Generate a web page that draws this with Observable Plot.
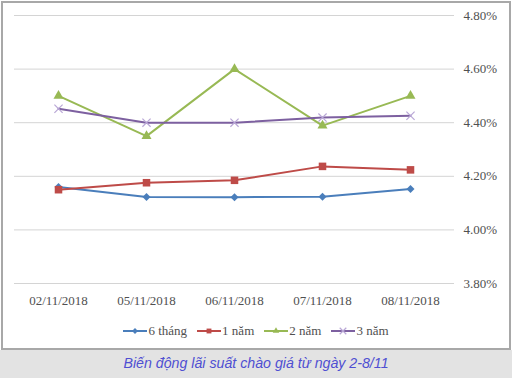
<!DOCTYPE html>
<html>
<head>
<meta charset="utf-8">
<script src="https://cdn.jsdelivr.net/npm/d3@7"></script>
<script src="https://cdn.jsdelivr.net/npm/@observablehq/plot@0.6"></script>
<style>
  html, body { margin: 0; padding: 0; background: #fff; }
  #wrap { position: relative; width: 512px; height: 378px; overflow: hidden; font-family: "Liberation Serif", "DejaVu Serif", serif; }
  #box { position: absolute; left: 1px; top: 1px; width: 506px; height: 345px; border: 2px solid #a8a8a8; box-sizing: content-box; }
  #chart { position: absolute; left: 0; top: 0; }
  #legend { position: absolute; left: 0; width: 512px; top: 323px; display: flex; justify-content: center; align-items: center; font-size: 13px; color: #505050; }
  .item { display: flex; align-items: center; margin: 0 5px; }
  .item svg { margin-right: 1px; }
  #caption { position: absolute; left: 0; top: 350px; width: 512px; height: 28px; background: #e3e3e3; text-align: center; line-height: 27px; font-family: "Liberation Sans", Arial, sans-serif; font-style: italic; font-size: 14.2px; color: #4f4fd2; }
</style>
</head>
<body>
<div id="wrap">
  <div id="box"></div>
  <div id="chart"></div>
  <div id="legend"></div>
  <div id="caption">Biến động lãi suất chào giá từ ngày 2-8/11</div>
</div>
<script>
const dates = ["02/11/2018", "05/11/2018", "06/11/2018", "07/11/2018", "08/11/2018"];
const seriesNames = ["6 tháng", "1 năm", "2 năm", "3 năm"];
const v6thang = [4.160, 4.123, 4.122, 4.124, 4.153];
const v1nam = [4.150, 4.176, 4.185, 4.237, 4.224];
const v2nam = [4.500, 4.350, 4.600, 4.389, 4.500];
const v3nam = [4.452, 4.400, 4.400, 4.419, 4.426];
const yTicks = [3.8, 4.0, 4.2, 4.4, 4.6, 4.8];

const lineColors = ["#4a7ebb", "#be4b48", "#98b954", "#7d60a0"];
const markColors = ["#4a7ebb", "#be4b48", "#98b954", "#b9a7d6"];
const symbols = ["diamond2", "square2", "triangle2", "times"];
const sizes = [3.6, 4.8, 4.8, 3.8];

const allValues = [v6thang, v1nam, v2nam, v3nam];
const data = [];
allValues.forEach((vals, si) => {
  vals.forEach((v, i) => data.push({series: seriesNames[si], si, date: dates[i], value: v}));
});

const marks = [
  Plot.gridY(yTicks, {stroke: "#d4d4d4", strokeOpacity: 1, strokeWidth: 1}),
  Plot.axisY(yTicks, {anchor: "right", tickSize: 0, tickPadding: 9, tickFormat: d => d3.format(".2f")(d) + "%", fontSize: 13, fill: "#505050"}),
  Plot.axisX({anchor: "bottom", tickSize: 0, tickPadding: 12, fontSize: 13, fill: "#505050"})
];
seriesNames.forEach((s, si) => {
  const d = data.filter(r => r.si === si);
  marks.push(Plot.line(d, {x: "date", y: "value", stroke: lineColors[si], strokeWidth: 2}));
});
seriesNames.forEach((s, si) => {
  const d = data.filter(r => r.si === si);
  const filled = symbols[si] !== "times";
  marks.push(Plot.dot(d, {x: "date", y: "value", symbol: () => symbols[si], r: sizes[si],
    fill: filled ? markColors[si] : "none", stroke: filled ? "none" : markColors[si], strokeWidth: 1.2}));
});

const chart = Plot.plot({
  width: 512,
  height: 320,
  marginLeft: 14,
  marginRight: 58,
  marginTop: 15,
  marginBottom: 37,
  style: {fontFamily: '"Liberation Serif", "DejaVu Serif", serif', background: "transparent", overflow: "visible"},
  x: {type: "point", domain: dates, padding: 0.5, label: null},
  y: {domain: [3.8, 4.8], label: null},
  symbol: {type: "identity"},
  marks
});
document.getElementById("chart").appendChild(chart);

// legend
const legend = document.getElementById("legend");
seriesNames.forEach((s, si) => {
  const item = document.createElement("div");
  item.className = "item";
  const sw = d3.create("svg").attr("width", 24).attr("height", 10);
  sw.append("line").attr("x1", 0).attr("x2", 24).attr("y1", 5).attr("y2", 5).attr("stroke", lineColors[si]).attr("stroke-width", 2);
  const sym = d3.symbol().type(
    symbols[si] === "diamond2" ? d3.symbolDiamond2 :
    symbols[si] === "square2" ? d3.symbolSquare2 :
    symbols[si] === "triangle2" ? d3.symbolTriangle2 : d3.symbolTimes).size(symbols[si] === "diamond2" ? 22 : 30);
  const p = sw.append("path").attr("d", sym()).attr("transform", "translate(12,5)");
  if (symbols[si] === "times") p.attr("fill", "none").attr("stroke", markColors[si]).attr("stroke-width", 1.2);
  else p.attr("fill", markColors[si]);
  item.appendChild(sw.node());
  const t = document.createElement("span");
  t.textContent = s;
  item.appendChild(t);
  legend.appendChild(item);
});
</script>
</body>
</html>
